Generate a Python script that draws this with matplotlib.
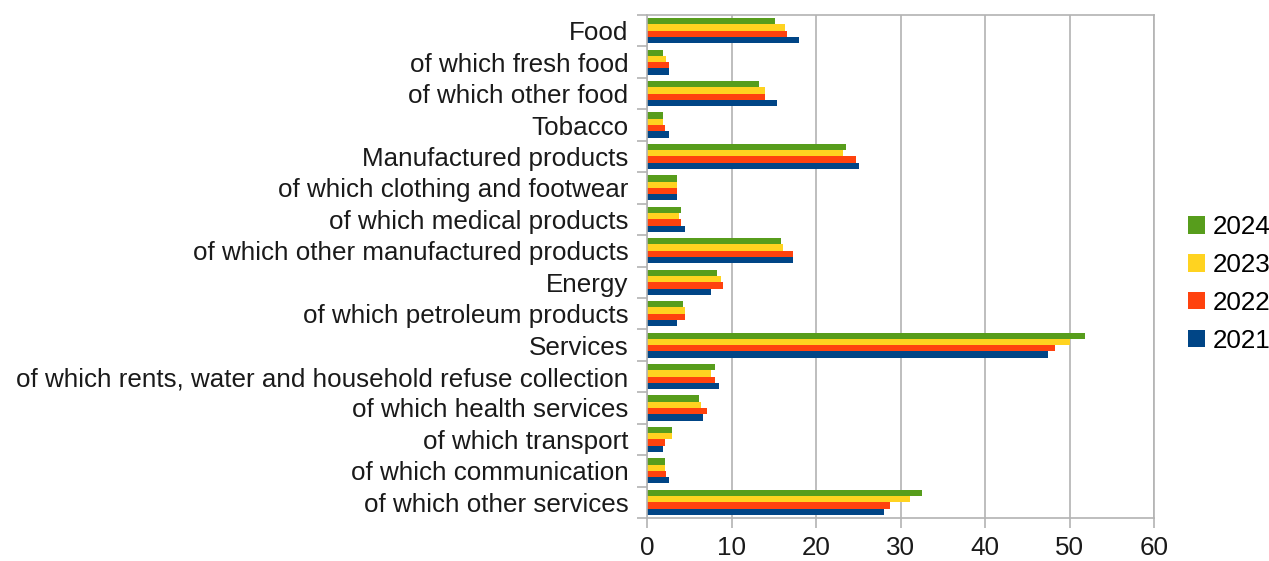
import numpy as np
import matplotlib

matplotlib.use("Agg")
import matplotlib.pyplot as plt
from matplotlib.patches import Patch

plt.rcParams["font.family"] = ["Liberation Sans", "DejaVu Sans"]

categories = [
    "Food",
    "of which fresh food",
    "of which other food",
    "Tobacco",
    "Manufactured products",
    "of which clothing and footwear",
    "of which medical products",
    "of which other manufactured products",
    "Energy",
    "of which petroleum products",
    "Services",
    "of which rents, water and household refuse collection",
    "of which health services",
    "of which transport",
    "of which communication",
    "of which other services",
]
years = ["2024", "2023", "2022", "2021"]
v2024 = [15.2, 1.9, 13.3, 1.9, 23.5, 3.5, 4.0, 15.9, 8.3, 4.2, 51.8, 8.0, 6.1, 3.0, 2.1, 32.5]
v2023 = [16.3, 2.3, 14.0, 1.9, 23.2, 3.5, 3.8, 16.1, 8.8, 4.5, 50.1, 7.6, 6.4, 3.0, 2.1, 31.1]
v2022 = [16.6, 2.6, 14.0, 2.1, 24.7, 3.5, 4.0, 17.3, 9.0, 4.5, 48.3, 8.0, 7.1, 2.1, 2.3, 28.7]
v2021 = [18.0, 2.6, 15.4, 2.6, 25.1, 3.5, 4.5, 17.3, 7.6, 3.5, 47.4, 8.5, 6.6, 1.9, 2.6, 28.0]
colors = ["#579d1c", "#ffd320", "#ff420e", "#004586"]

series = [v2024, v2023, v2022, v2021]

fig = plt.figure(figsize=(12.69, 5.61), dpi=100)
ax = fig.add_axes([0.5099, 0.0766, 0.3995, 0.8967])

n = len(categories)
y = np.arange(n)
bh = 0.2
for i, (vals, c) in enumerate(zip(series, colors)):
    ax.barh(y - 0.3 + i * bh, vals, height=bh, color=c, edgecolor="none")

fs = 18.7
ax.set_xlim(0, 60)
ax.set_ylim(n - 0.5, -0.5)
ax.set_xticks(range(0, 61, 10))
ax.set_yticks(y)
ax.set_yticklabels(categories)
ax.set_yticks(np.arange(n + 1) - 0.5, minor=True)
ax.tick_params(axis="y", which="major", length=0, pad=13.5, labelsize=fs, labelcolor="#1a1a1a")
ax.tick_params(axis="y", which="minor", length=7, color="#b3b3b3", width=1.2)
ax.tick_params(axis="x", length=7, color="#b3b3b3", width=1.2, labelsize=fs, labelcolor="#1a1a1a", pad=6)
ax.grid(axis="x", color="#b3b3b3", linewidth=1.2)
ax.set_axisbelow(True)
for s in ax.spines.values():
    s.set_color("#b3b3b3")
    s.set_linewidth(1.2)

handles = [Patch(facecolor=c, edgecolor="none") for c in colors]
fig.legend(handles, years, loc="center left", bbox_to_anchor=(0.936, 0.494),
           frameon=False, fontsize=fs, handlelength=0.65, handleheight=0.65,
           handletextpad=0.3, labelspacing=0.53, borderpad=0, borderaxespad=0)

fig.savefig("out.png", dpi=100)
